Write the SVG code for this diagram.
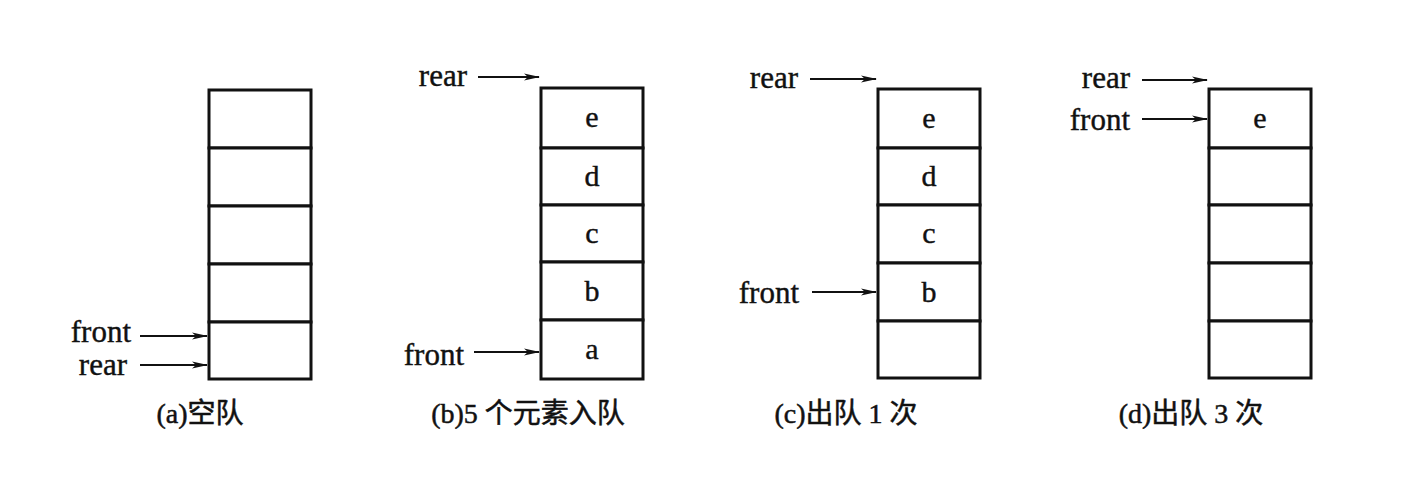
<svg xmlns="http://www.w3.org/2000/svg" width="1408" height="486" viewBox="0 0 1408 486">
<style>
.cell{fill:#fff;stroke:#111;stroke-width:3}
.lbl{font-family:"Liberation Serif","Noto Sans CJK SC",serif;font-size:31px;fill:#111;stroke:#111;stroke-width:0.4}
.val{font-family:"Liberation Serif",serif;font-size:30px;fill:#111;stroke:#111;stroke-width:0.4;text-anchor:middle}
.cap{font-family:"Liberation Serif","Noto Sans CJK SC",serif;font-size:28px;fill:#111;stroke:#111;stroke-width:0.5;text-anchor:middle}
.arr{stroke:#111;stroke-width:2;fill:none;marker-end:url(#ah)}
</style>
<defs>
<marker id="ah" markerWidth="16" markerHeight="8" refX="15" refY="4" orient="auto" markerUnits="userSpaceOnUse">
<path d="M0,0.5 L16,4 L0,7.5 L4,4 Z" fill="#111"/>
</marker>
</defs>
<rect width="1408" height="486" fill="#fff"/>
<g id="panel-a">
<rect class="cell" x="209" y="90" width="102" height="58"/>
<rect class="cell" x="209" y="148" width="102" height="58"/>
<rect class="cell" x="209" y="206" width="102" height="58"/>
<rect class="cell" x="209" y="264" width="102" height="58"/>
<rect class="cell" x="209" y="322" width="102" height="57"/>
<text class="lbl" x="131" y="342" text-anchor="end" font-size="30">front</text>
<text class="lbl" x="127" y="375" text-anchor="end" font-size="30">rear</text>
<text class="cap" x="200" y="423">(a)空队</text>
</g>
<g id="panel-b">
<rect class="cell" x="541" y="88" width="102" height="60"/>
<rect class="cell" x="541" y="148" width="102" height="57"/>
<rect class="cell" x="541" y="205" width="102" height="57"/>
<rect class="cell" x="541" y="262" width="102" height="58"/>
<rect class="cell" x="541" y="320" width="102" height="59"/>
<text class="val" x="592" y="127">e</text>
<text class="val" x="592" y="186">d</text>
<text class="val" x="592" y="243">c</text>
<text class="val" x="592" y="301">b</text>
<text class="val" x="592" y="359">a</text>
<text class="lbl" x="467" y="86" text-anchor="end">rear</text>
<text class="lbl" x="464" y="365" text-anchor="end">front</text>
<text class="cap" x="528" y="423">(b)5 个元素入队</text>
</g>
<g id="panel-c">
<rect class="cell" x="878" y="89" width="102" height="59"/>
<rect class="cell" x="878" y="148" width="102" height="57"/>
<rect class="cell" x="878" y="205" width="102" height="58"/>
<rect class="cell" x="878" y="263" width="102" height="58"/>
<rect class="cell" x="878" y="321" width="102" height="57"/>
<text class="val" x="929" y="128">e</text>
<text class="val" x="929" y="186">d</text>
<text class="val" x="929" y="243">c</text>
<text class="val" x="929" y="302">b</text>
<text class="lbl" x="798" y="88" text-anchor="end">rear</text>
<text class="lbl" x="799" y="303" text-anchor="end">front</text>
<text class="cap" x="846" y="423">(c)出队 1 次</text>
</g>
<g id="panel-d">
<rect class="cell" x="1209" y="89" width="102" height="59"/>
<rect class="cell" x="1209" y="148" width="102" height="57"/>
<rect class="cell" x="1209" y="205" width="102" height="58"/>
<rect class="cell" x="1209" y="263" width="102" height="58"/>
<rect class="cell" x="1209" y="321" width="102" height="57"/>
<text class="val" x="1260" y="128">e</text>
<text class="lbl" x="1130" y="88" text-anchor="end">rear</text>
<text class="lbl" x="1130" y="130" text-anchor="end">front</text>
<text class="cap" x="1191" y="423">(d)出队 3 次</text>
</g>
<g id="connectors">
<line class="arr" x1="140" y1="336" x2="207" y2="336"/>
<line class="arr" x1="140" y1="365" x2="207" y2="365"/>
<line class="arr" x1="478" y1="77" x2="539" y2="77"/>
<line class="arr" x1="474" y1="352" x2="539" y2="352"/>
<line class="arr" x1="810" y1="79" x2="876" y2="79"/>
<line class="arr" x1="812" y1="292" x2="876" y2="292"/>
<line class="arr" x1="1142" y1="80" x2="1207" y2="80"/>
<line class="arr" x1="1142" y1="119" x2="1207" y2="119"/>
</g>
</svg>
